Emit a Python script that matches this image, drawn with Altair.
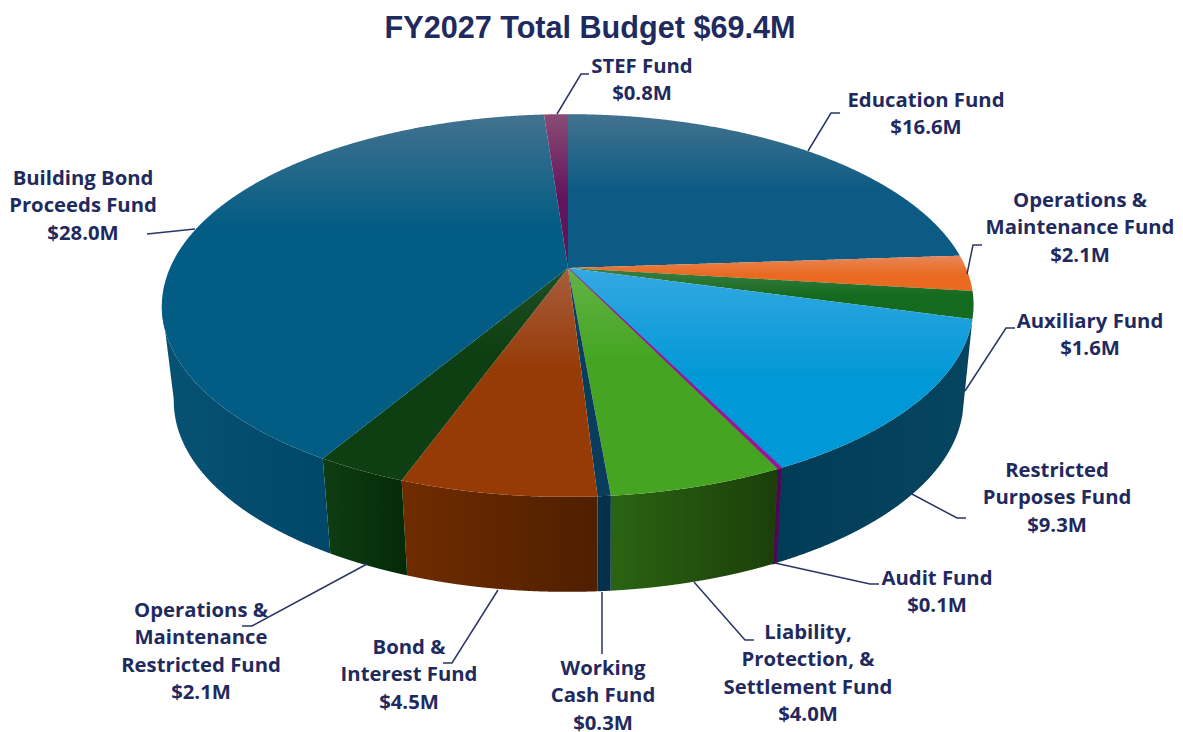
import numpy as np
import pandas as pd
import altair as alt

TITLE = "FY2027 Total Budget $69.4M"
funds = ["Education Fund", "Operations & Maintenance Fund", "Auxiliary Fund",
         "Restricted Purposes Fund", "Audit Fund", "Liability, Protection, & Settlement Fund",
         "Working Cash Fund", "Bond & Interest Fund", "Operations & Maintenance Restricted Fund",
         "Building Bond Proceeds Fund", "STEF Fund"]
values = [16.6, 2.1, 1.6, 9.3, 0.1, 4.0, 0.3, 4.5, 2.1, 28.0, 0.8]
face_light = ["#43728f", "#e8865a", "#3d7f45", "#35a8e2", "#a0109a", "#62b345", "#0e4160",
              "#a85e3e", "#1f5025", "#43728f", "#8a4c74"]
face_base = ["#0b5b84", "#e96a20", "#146a1e", "#0098d6", "#a0109a", "#45a522", "#0a3d5c",
             "#963a06", "#0d3f12", "#025c84", "#60145c"]
face_stop = [0.5, 0.55, 0.55, 0.55, 0.55, 0.4, 0.55, 0.45, 0.4, 0.33, 0.55]
wall_left = [None, None, None, "#003c58", "#4a0a50", "#2a6412", "#04304a", "#702c00", "#0f3d12", "#075273", None]
wall_right = [None, None, None, "#064560", "#4a0a50", "#1c3e0a", "#04304a", "#4f1f00", "#032a06", "#00476a", None]
edge_width = [0, 0, 0, 0, 1.1, 0, 0, 0, 0, 0, 0]

label_lines = [
    ["STEF Fund", "$0.8M"], ["Education Fund", "$16.6M"],
    ["Operations &", "Maintenance Fund", "$2.1M"], ["Auxiliary Fund", "$1.6M"],
    ["Restricted", "Purposes Fund", "$9.3M"], ["Audit Fund", "$0.1M"],
    ["Liability,", "Protection, &", "Settlement Fund", "$4.0M"],
    ["Working", "Cash Fund", "$0.3M"], ["Bond &", "Interest Fund", "$4.5M"],
    ["Operations &", "Maintenance", "Restricted Fund", "$2.1M"],
    ["Building Bond", "Proceeds Fund", "$28.0M"],
]
label_anchor = [(642, 67), (926, 101), (1080, 201), (1090, 322), (1057, 471), (937, 579),
                (808, 633), (603, 669), (409, 648), (201, 611), (83, 179)]
leaders = [
    [(557, 114), (581, 74), (589, 74)],
    [(808, 151), (831, 113), (840, 113)],
    [(967, 274), (973, 245), (982, 245)],
    [(965, 391), (1006, 328), (1015, 328)],
    [(910, 493), (957, 518), (966, 518)],
    [(775, 563), (870, 584), (879, 584)],
    [(694, 582), (745, 640), (754, 640)],
    [(602, 592), (602, 654)],
    [(498, 590), (452, 663), (443, 663)],
    [(367, 564), (252, 626), (242, 626)],
    [(195, 229), (147, 234)],
]

# Perspective model of the pie disc
CX, AY, K, A, B = 568.0, 268.0, 0.196, 184.0, 398.0
DEPTH, BSCALE = 95.0, 0.973
INK = "#1f2a5e"

def rim(t, lower=False):
    X, Y = np.sin(t), np.cos(t)
    d = 1 + K * Y
    px, py = B * X / d, -A * Y / d
    px = px - 0.008 * np.maximum(py, 0)
    if lower:
        return CX + 1 + BSCALE * px, AY + DEPTH + py
    return CX + px, AY + py

def envelope(poly):
    poly = np.asarray(poly)
    xs = np.unique(np.round(np.concatenate([poly[:, 0], np.linspace(poly[:, 0].min(), poly[:, 0].max(), 300)]), 2))
    a, b = poly, np.roll(poly, -1, axis=0)
    rows = []
    for x in xs:
        hits = []
        for (x0, y0), (x1, y1) in zip(a, b):
            lo, hi = min(x0, x1) - 0.006, max(x0, x1) + 0.006
            if lo <= x <= hi:
                if abs(x1 - x0) < 1e-6:
                    hits += [y0, y1]
                else:
                    hits.append(y0 + (y1 - y0) * np.clip((x - x0) / (x1 - x0), 0, 1))
        if hits:
            rows.append({"x": float(x), "y": float(min(hits)), "y2": float(max(hits))})
    return pd.DataFrame(rows)

SX = alt.Scale(domain=[8, 1175], nice=False, zero=False)
SY = alt.Scale(domain=[732, 8], nice=False, zero=False)

def area(df, grad, edge=0, edge_color="#000000"):
    opts = dict(color=grad, interpolate="linear")
    if edge:
        opts.update(stroke=edge_color, strokeWidth=edge)
    return alt.Chart(df).mark_area(**opts).encode(
        x=alt.X("x:Q", scale=SX, axis=None),
        y=alt.Y("y:Q", scale=SY, axis=None),
        y2="y2:Q")

def v_grad(light, base, stop):
    return alt.Gradient(gradient="linear", x1=0, x2=0, y1=0, y2=1, stops=[
        alt.GradientStop(offset=0, color=light),
        alt.GradientStop(offset=stop, color=base),
        alt.GradientStop(offset=1, color=base)])

def h_grad(left, right):
    return alt.Gradient(gradient="linear", x1=0, x2=1, y1=0, y2=0, stops=[
        alt.GradientStop(offset=0, color=left),
        alt.GradientStop(offset=1, color=right)])

edges = np.concatenate([[0], np.cumsum(values)]) / sum(values) * 2 * np.pi
layers = []
WALL_MIN, WALL_MAX = np.radians(105.0), np.radians(259.0)

# side walls
for i in range(len(values)):
    if wall_left[i] is None:
        continue
    t0, t1 = max(edges[i], WALL_MIN), min(edges[i + 1], WALL_MAX)
    ts = np.linspace(t0, t1, 90)
    top = np.column_stack(rim(ts))
    bot = np.column_stack(rim(ts[::-1], lower=True))
    layers.append(area(envelope(np.vstack([top, bot])), h_grad(wall_left[i], wall_right[i]),
                       edge_width[i], wall_left[i]))

# top faces
for i in range(len(values)):
    ts = np.linspace(edges[i], edges[i + 1], max(4, int((edges[i + 1] - edges[i]) * 90)))
    outer = np.column_stack(rim(ts))
    poly = np.vstack([[CX, AY], outer])
    layers.append(area(envelope(poly), v_grad(face_light[i], face_base[i], face_stop[i]),
                       edge_width[i], face_base[i]))

# leaders
rows = []
for n, pts in enumerate(leaders):
    for o, (x, y) in enumerate(pts):
        rows.append({"n": n, "o": o, "x": x, "y": y})
layers.append(alt.Chart(pd.DataFrame(rows)).mark_line(color="#2a3563", strokeWidth=1.5).encode(
    x=alt.X("x:Q", scale=SX, axis=None), y=alt.Y("y:Q", scale=SY, axis=None),
    detail="n:N", order="o:Q"))

# labels
LINE = 27.3
rows = []
for lines, (ax, ay) in zip(label_lines, label_anchor):
    for j, s in enumerate(lines):
        rows.append({"x": ax, "y": ay + j * LINE, "t": s})
layers.append(alt.Chart(pd.DataFrame(rows)).mark_text(
    font="Open Sans", fontWeight="bold", fontSize=20.3, color=INK, align="center", baseline="middle"
).encode(x=alt.X("x:Q", scale=SX, axis=None), y=alt.Y("y:Q", scale=SY, axis=None), text="t:N"))

# title
layers.append(alt.Chart(pd.DataFrame([{"x": 590, "y": 29, "t": TITLE}])).mark_text(
    font="Liberation Sans", fontWeight="bold", fontSize=30.6, color=INK, align="center", baseline="middle"
).encode(x=alt.X("x:Q", scale=SX, axis=None), y=alt.Y("y:Q", scale=SY, axis=None), text="t:N"))

chart = alt.layer(*layers).properties(
    width=1167, height=724, padding=0, autosize=alt.AutoSizeParams(type="none"), background="white"
).configure_view(stroke=None)

chart.save("out.html", embed_options={"renderer": "svg", "actions": False})
